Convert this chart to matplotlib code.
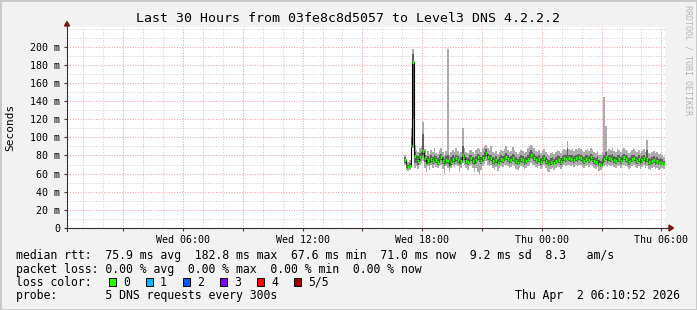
import matplotlib
matplotlib.use("Agg")
import matplotlib.pyplot as plt
from matplotlib.lines import Line2D
from matplotlib.patches import Polygon, Rectangle
import numpy as np

# ---------------- data ----------------
title = "Last 30 Hours from 03fe8c8d5057 to Level3 DNS 4.2.2.2"
view_end_h = 30 + 10 / 60 + 52 / 3600      # Thu 06:10:52, hours since Wed 00:00
view_span_h = 30
first_edge_h = 17 + 5 / 60                 # first sample interval starts Wed 17:05
step_h = 5 / 60                            # 300 s

x_tick_hours = [6, 12, 18, 24, 30]
x_tick_labels = ["Wed 06:00", "Wed 12:00", "Wed 18:00", "Thu 00:00", "Thu 06:00"]
y_tick_values = [0, 20, 40, 60, 80, 100, 120, 140, 160, 180, 200]
y_tick_labels = ["0", "20 m", "40 m", "60 m", "80 m", "100 m", "120 m",
                 "140 m", "160 m", "180 m", "200 m"]

# median rtt (ms) per 5-minute step
median = [75, 69, 67.6, 68, 90, 182.8, 79, 76, 74, 78,
          80, 85, 77, 72, 75, 73, 76, 74, 77, 75,
          73, 76, 78, 74, 72, 75, 74, 70, 73, 76,
          74, 77, 75, 72, 74, 80, 78, 74, 73, 76,
          77, 74, 72, 75, 78, 76, 74, 77, 79, 83,
          78, 76, 77, 74, 73, 75, 72, 74, 76, 75,
          77, 78, 76, 74, 75, 77, 76, 74, 72, 74,
          76, 75, 73, 74, 76, 78, 80, 79, 77, 75,
          74, 76, 73, 75, 77, 74, 72, 71, 73, 74,
          72, 74, 76, 75, 73, 75, 77, 76, 78, 77,
          76, 77, 75, 77, 76, 78, 77, 75, 74, 76,
          77, 75, 78, 76, 74, 73, 75, 71, 70, 73,
          76, 78, 75, 77, 76, 78, 75, 74, 77, 76,
          74, 77, 78, 76, 75, 73, 74, 76, 77, 75,
          74, 76, 73, 75, 77, 74, 76, 73, 72, 74,
          75, 73, 74, 72, 73, 72, 71]
# fastest ping
ping_min = [70, 64, 63, 64, 70, 88, 66, 68, 65, 70,
            72, 74, 66, 62, 68, 64, 69, 66, 70, 67,
            66, 68, 70, 65, 60, 68, 66, 62, 66, 69,
            67, 70, 68, 62, 66, 72, 70, 66, 64, 68,
            70, 66, 62, 66, 62, 58, 64, 68, 71, 74,
            70, 68, 70, 66, 64, 67, 63, 66, 68, 67,
            69, 70, 68, 66, 67, 69, 68, 65, 64, 66,
            68, 67, 65, 66, 68, 70, 72, 70, 69, 67,
            66, 68, 65, 67, 69, 66, 63, 62, 65, 66,
            64, 66, 68, 67, 65, 67, 69, 68, 70, 69,
            68, 69, 67, 69, 68, 70, 69, 67, 66, 68,
            69, 67, 70, 68, 66, 65, 67, 63, 64, 66,
            68, 70, 67, 69, 68, 70, 67, 66, 69, 68,
            66, 69, 70, 68, 67, 65, 66, 68, 69, 67,
            66, 68, 65, 67, 69, 66, 68, 65, 64, 66,
            67, 65, 66, 64, 65, 66, 65]
# second ping
ping_2 = [72, 66, 65, 66, 76, 120, 72, 72, 70, 74,
          76, 80, 73, 69, 72, 70, 73, 71, 74, 72,
          70, 73, 75, 71, 68, 72, 71, 67, 70, 73,
          71, 74, 72, 69, 71, 77, 75, 71, 70, 73,
          74, 71, 69, 72, 75, 73, 71, 74, 76, 79,
          75, 73, 74, 71, 70, 72, 69, 71, 73, 72,
          74, 75, 73, 71, 72, 74, 73, 71, 69, 71,
          73, 72, 70, 71, 73, 75, 77, 76, 74, 72,
          71, 73, 70, 72, 74, 71, 69, 68, 70, 71,
          69, 71, 73, 72, 70, 72, 74, 73, 75, 74,
          73, 74, 72, 74, 73, 75, 74, 72, 71, 73,
          74, 72, 75, 73, 71, 70, 72, 68, 67, 70,
          73, 75, 72, 74, 73, 75, 72, 71, 74, 73,
          71, 74, 75, 73, 72, 70, 71, 73, 74, 72,
          71, 73, 70, 72, 74, 71, 73, 70, 69, 71,
          72, 70, 71, 69, 70, 70, 69]
# fourth ping
ping_4 = [78, 72, 70, 72, 100, 192, 84, 80, 79, 83,
          84, 104, 81, 76, 79, 77, 80, 78, 81, 79,
          77, 80, 82, 78, 76, 79, 80, 75, 78, 80,
          78, 81, 79, 76, 78, 90, 82, 78, 77, 80,
          81, 78, 77, 79, 82, 80, 78, 81, 84, 87,
          82, 80, 81, 78, 77, 79, 76, 78, 80, 79,
          81, 83, 80, 78, 79, 82, 80, 78, 76, 78,
          80, 79, 77, 78, 81, 84, 86, 84, 82, 79,
          78, 80, 77, 79, 81, 78, 76, 75, 77, 78,
          76, 78, 80, 79, 77, 79, 81, 80, 88, 81,
          80, 81, 79, 81, 80, 82, 81, 79, 78, 80,
          81, 79, 82, 80, 78, 77, 79, 75, 74, 77,
          80, 84, 79, 81, 80, 82, 79, 78, 81, 80,
          78, 81, 82, 80, 79, 77, 78, 80, 81, 79,
          78, 80, 77, 79, 81, 78, 86, 77, 76, 78,
          79, 77, 78, 76, 77, 76, 74]
# slowest ping
ping_max = [80, 76, 73, 75, 110, 198, 92, 86, 84, 88,
            90, 117, 87, 80, 85, 82, 86, 84, 88, 83,
            82, 86, 88, 84, 81, 85, 198, 80, 84, 86,
            84, 88, 85, 82, 84, 110, 88, 84, 83, 86,
            86, 84, 82, 86, 88, 87, 84, 88, 90, 92,
            88, 86, 90, 84, 83, 85, 82, 84, 86, 85,
            87, 90, 86, 84, 85, 89, 86, 84, 82, 84,
            86, 85, 83, 84, 88, 91, 92, 90, 88, 85,
            84, 86, 83, 85, 87, 84, 82, 81, 83, 84,
            82, 84, 86, 85, 83, 85, 87, 86, 96, 87,
            86, 87, 85, 87, 86, 88, 87, 85, 84, 86,
            87, 85, 88, 86, 84, 83, 85, 81, 80, 84,
            145, 113, 85, 87, 86, 88, 85, 84, 87, 86,
            84, 87, 88, 86, 85, 83, 84, 86, 87, 85,
            84, 86, 83, 85, 87, 84, 97, 83, 82, 84,
            85, 83, 84, 82, 83, 80, 78]

legend_rtt = "median rtt:  75.9 ms avg  182.8 ms max  67.6 ms min  71.0 ms now  9.2 ms sd  8.3   am/s"
legend_loss = "packet loss: 0.00 % avg  0.00 % max  0.00 % min  0.00 % now"
loss_labels = ["0", "1", "2", "3", "4", "5/5"]
loss_colors = ["#26ff00", "#00b8ff", "#0059ff", "#7e00ff", "#ff0000", "#a10000"]
probe_text = "probe:       5 DNS requests every 300s"
date_text = "Thu Apr  2 06:10:52 2026"
credit = "RRDTOOL / TOBI OETIKER"

# ---------------- figure ----------------
W, H = 697, 310
mono = "DejaVu Sans Mono"
fig = plt.figure(figsize=(W / 100, H / 100), dpi=100, facecolor="#f2f2f2")

def fx(x):
    return x / W

def fy(y):
    return 1 - y / H

L, R, T, B = 67, 665, 27, 228
ax = fig.add_axes([fx(L), fy(B), (R - L) / W, (B - T) / H])
ax.set_facecolor("white")
for s in ax.spines.values():
    s.set_visible(False)

ax.set_xlim(view_end_h - view_span_h, view_end_h)
ax.set_ylim(0, (B - T) / 0.9065)

# grid
ax.set_xticks(np.arange(3, 31, 3))
ax.set_xticks(np.arange(1, 31, 1), minor=True)
ax.set_yticks(np.arange(0, 221, 20))
ax.set_yticks(np.arange(10, 221, 10), minor=True)
ax.grid(which="minor", color="#d0d0d0", linewidth=0.75, linestyle=(0, (1, 1.5)))
ax.grid(which="major", color="#f5a0a0", linewidth=0.75, linestyle=(0, (1, 1.5)))
ax.set_axisbelow(True)

# x labels only every 6 h
maj = np.arange(3, 31, 3)
lab = {h: t for h, t in zip(x_tick_hours, x_tick_labels)}
ax.set_xticklabels([lab.get(int(h), "") for h in maj], fontfamily=mono, fontsize=7.2)
ax.set_yticks(y_tick_values)
ax.set_yticklabels(y_tick_labels, fontfamily=mono, fontsize=7.2)
ax.tick_params(which="major", length=2.5, width=0.8, color="#404040", pad=2.5)
ax.tick_params(which="minor", length=0)

# smoke
n = len(median)
edges = first_edge_h + step_h * np.arange(n + 1)
ax.stairs(ping_max, edges, baseline=ping_min, fill=True, color="#acacac", zorder=2)
ax.stairs(ping_4, edges, baseline=ping_2, fill=True, color="#606060", zorder=3)
ax.stairs(median, edges, baseline=None, color="#000000", linewidth=0.8, zorder=4)
ax.hlines(median, edges[:-1], edges[1:], color=loss_colors[0], linewidth=2.2, zorder=5)

# axis lines with arrows
fig.add_artist(Line2D([fx(65), fx(670)], [fy(B), fy(B)], color="#303030", linewidth=0.8))
fig.add_artist(Line2D([fx(L), fx(L)], [fy(231), fy(25)], color="#303030", linewidth=0.8))
fig.add_artist(Polygon([[fx(669), fy(225)], [fx(669), fy(231)], [fx(673.5), fy(B)]],
                       closed=True, color="#8b1010"))
fig.add_artist(Polygon([[fx(64.5), fy(26)], [fx(69.5), fy(26)], [fx(L), fy(21.5)]],
                       closed=True, color="#8b1010"))

# texts
fig.text(0.5, fy(19), title, ha="center", va="center", fontfamily=mono, fontsize=9.5)
fig.text(fx(10), fy(127), "Seconds", rotation=90, ha="center", va="center",
         fontfamily=mono, fontsize=8)
fig.text(fx(688), fy(5), credit, rotation=270, ha="center", va="top",
         fontfamily=mono, fontsize=6, color="#b4b4b4")

fig.text(fx(16), fy(255), legend_rtt, ha="left", va="center", fontfamily=mono, fontsize=8.3)
fig.text(fx(16), fy(269), legend_loss, ha="left", va="center", fontfamily=mono, fontsize=8.3)
fig.text(fx(16), fy(282), "loss color:", ha="left", va="center", fontfamily=mono, fontsize=8.3)
for i, (lb, c) in enumerate(zip(loss_labels, loss_colors)):
    x0 = 108.5 + 37 * i
    fig.add_artist(Rectangle((fx(x0), fy(285.7)), 7.5 / W, 8.2 / H, facecolor=c,
                             edgecolor="black", linewidth=0.7))
    fig.text(fx(x0 + 14.5), fy(282), lb, ha="left", va="center", fontfamily=mono, fontsize=8.3)
fig.text(fx(16), fy(296), probe_text, ha="left", va="center", fontfamily=mono, fontsize=8.3)
fig.text(fx(680), fy(296), date_text, ha="right", va="center", fontfamily=mono, fontsize=8.3)

# border
fig.add_artist(Rectangle((0, 0), 1, 1, fill=False, edgecolor="#c8c8c8", linewidth=2,
                         transform=fig.transFigure))

fig.savefig("out.png", dpi=100, facecolor=fig.get_facecolor())
